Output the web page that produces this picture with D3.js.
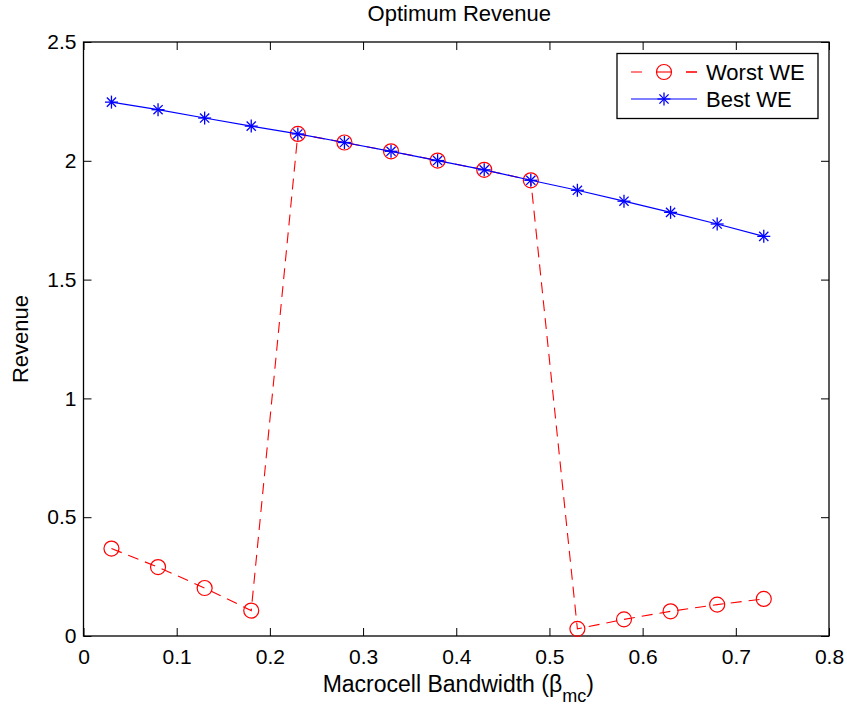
<!DOCTYPE html>
<html>
<head>
<meta charset="utf-8">
<script src="https://cdn.jsdelivr.net/npm/d3@7"></script>
<style>
  body { margin: 0; background: #fff; }
  text { font-family: "Liberation Sans", Arial, Helvetica, sans-serif; }
</style>
</head>
<body>
<div id="chart"></div>
<script>
const width = 847;
const height = 706;
const margin = { top: 42, right: 18, bottom: 70, left: 83.5 };

// bandwidth values and the two revenue curves
const bandwidth = [0.03, 0.08, 0.13, 0.18, 0.23, 0.28, 0.33, 0.38, 0.43, 0.48, 0.53, 0.58, 0.63, 0.68, 0.73];
const worstWE = [0.368, 0.290, 0.202, 0.107, 2.113, 2.077, 2.040, 2.001, 1.962, 1.918, 0.030, 0.070, 0.104, 0.132, 0.156];
const bestWE  = [2.247, 2.215, 2.180, 2.146, 2.113, 2.077, 2.040, 2.001, 1.962, 1.918, 1.876, 1.830, 1.783, 1.734, 1.682];
const xTicks = [0, 0.1, 0.2, 0.3, 0.4, 0.5, 0.6, 0.7, 0.8];
const yTicks = [0, 0.5, 1, 1.5, 2, 2.5];

const svg = d3.select("#chart")
    .append("svg")
    .attr("width", width)
    .attr("height", height);

const x = d3.scaleLinear().domain([0, 0.8]).range([margin.left, width - margin.right]);
const y = d3.scaleLinear().domain([0, 2.5]).range([height - margin.bottom, margin.top]);

const x0 = x.range()[0], x1 = x.range()[1];
const y0 = y.range()[0], y1 = y.range()[1];

// axes with inward ticks on all four sides
const fmt = d => d === 0 ? "0" : d3.format("~g")(d);
const styleAxis = g => {
    g.select(".domain").remove();
    g.selectAll(".tick line").attr("stroke", "#000").attr("stroke-width", 1);
    g.selectAll(".tick text").attr("fill", "#000").style("font-size", "21px");
};

svg.append("g")
    .attr("transform", `translate(0,${y0})`)
    .call(d3.axisBottom(x).tickValues(xTicks).tickFormat(fmt).tickSizeInner(-8).tickSizeOuter(0).tickPadding(13))
    .call(styleAxis);
svg.append("g")
    .attr("transform", `translate(0,${y1})`)
    .call(d3.axisTop(x).tickValues(xTicks).tickFormat("").tickSizeInner(-8).tickSizeOuter(0))
    .call(styleAxis);
svg.append("g")
    .attr("transform", `translate(${x0},0)`)
    .call(d3.axisLeft(y).tickValues(yTicks).tickFormat(fmt).tickSizeInner(-8).tickSizeOuter(0).tickPadding(7))
    .call(styleAxis);
svg.append("g")
    .attr("transform", `translate(${x1},0)`)
    .call(d3.axisRight(y).tickValues(yTicks).tickFormat("").tickSizeInner(-8).tickSizeOuter(0))
    .call(styleAxis);

// plot box
svg.append("rect")
    .attr("x", x0).attr("y", y1)
    .attr("width", x1 - x0).attr("height", y0 - y1)
    .attr("fill", "none").attr("stroke", "#000").attr("stroke-width", 1.3);

const worst = bandwidth.map((b, i) => ({ x: b, y: worstWE[i] }));
const best = bandwidth.map((b, i) => ({ x: b, y: bestWE[i] }));
const line = d3.line().x(d => x(d.x)).y(d => y(d.y));

const red = "#ff0000";
const blue = "#0000ff";
const dash = "11,7";

// star marker: MATLAB style asterisk
function star(g, cx, cy, r, color) {
    const p = g.append("g").attr("transform", `translate(${cx},${cy})`)
        .attr("stroke", color).attr("stroke-width", 1.3);
    [0, 45, 90, 135].forEach(a => {
        const t = a * Math.PI / 180;
        p.append("line")
            .attr("x1", -r * Math.cos(t)).attr("y1", -r * Math.sin(t))
            .attr("x2", r * Math.cos(t)).attr("y2", r * Math.sin(t));
    });
}

// Worst WE: red dashed with circles
svg.append("path")
    .datum(worst)
    .attr("d", line)
    .attr("fill", "none")
    .attr("stroke", red)
    .attr("stroke-width", 1.1)
    .attr("stroke-dasharray", dash);

svg.selectAll(".worst-marker")
    .data(worst)
    .enter()
    .append("circle")
    .attr("class", "worst-marker")
    .attr("cx", d => x(d.x))
    .attr("cy", d => y(d.y))
    .attr("r", 7.5)
    .attr("fill", "none")
    .attr("stroke", red)
    .attr("stroke-width", 1.2);

// Best WE: blue solid with stars
svg.append("path")
    .datum(best)
    .attr("d", line)
    .attr("fill", "none")
    .attr("stroke", blue)
    .attr("stroke-width", 1.2);

const stars = svg.append("g");
best.forEach(d => star(stars, x(d.x), y(d.y), 6.5, blue));

// legend
const lg = svg.append("g");
lg.append("rect")
    .attr("x", 617).attr("y", 53.5)
    .attr("width", 201).attr("height", 65)
    .attr("fill", "#fff").attr("stroke", "#000").attr("stroke-width", 1.3);

lg.append("line")
    .attr("x1", 631).attr("x2", 697).attr("y1", 72).attr("y2", 72)
    .attr("stroke", red).attr("stroke-width", 1.1).attr("stroke-dasharray", "11,44");
lg.append("line")
    .attr("x1", 686).attr("x2", 697).attr("y1", 72).attr("y2", 72)
    .attr("stroke", red).attr("stroke-width", 1.1);
lg.append("circle")
    .attr("cx", 664).attr("cy", 72).attr("r", 7.5)
    .attr("fill", "none").attr("stroke", red).attr("stroke-width", 1.2);
lg.append("line")
    .attr("x1", 656.5).attr("x2", 671.5).attr("y1", 72).attr("y2", 72)
    .attr("stroke", red).attr("stroke-width", 1.1);

lg.append("line")
    .attr("x1", 631).attr("x2", 697).attr("y1", 99).attr("y2", 99)
    .attr("stroke", blue).attr("stroke-width", 1.2);
star(lg, 664, 99, 6.5, blue);

lg.append("text").attr("x", 706).attr("y", 79.5).style("font-size", "22px").text("Worst WE");
lg.append("text").attr("x", 706).attr("y", 106.5).style("font-size", "22px").text("Best WE");

// title and axis labels
svg.append("text")
    .attr("x", (x0 + x1) / 2 + 3).attr("y", 21)
    .attr("text-anchor", "middle")
    .style("font-size", "22px")
    .text("Optimum Revenue");

const xl = svg.append("text")
    .attr("x", (x0 + x1) / 2 + 2).attr("y", 692)
    .attr("text-anchor", "middle")
    .style("font-size", "23px");
xl.append("tspan").text("Macrocell Bandwidth (\u03B2");
xl.append("tspan").attr("dy", 10).style("font-size", "18px").text("mc");
xl.append("tspan").attr("dy", -10).text(")");

svg.append("text")
    .attr("transform", `translate(28,${(y0 + y1) / 2}) rotate(-90)`)
    .attr("text-anchor", "middle")
    .style("font-size", "22px")
    .text("Revenue");
</script>
</body>
</html>
